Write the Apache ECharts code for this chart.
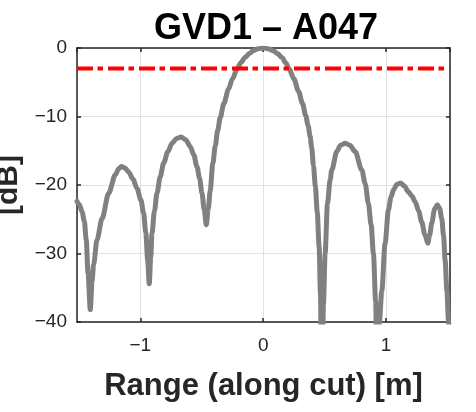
<!DOCTYPE html>
<html><head><meta charset="utf-8">
<script src="https://cdn.jsdelivr.net/npm/echarts@6/dist/echarts.min.js"></script>
<style>html,body{margin:0;padding:0;background:#fff}#c{width:476px;height:412px}</style>
</head><body><div id="c"></div><script>
// Range along cut [m]
const rangeM = [
  -1.515,-1.495,-1.474,-1.455,-1.44,-1.425,-1.407,-1.392,-1.38,-1.352,
  -1.311,-1.257,-1.203,-1.175,-1.154,-1.125,-1.095,-1.06,-1.027,-0.995,
  -0.973,-0.955,-0.94,-0.927,-0.915,-0.905,-0.885,-0.864,-0.838,-0.81,
  -0.775,-0.742,-0.705,-0.669,-0.63,-0.593,-0.565,-0.539,-0.518,-0.498,
  -0.48,-0.463,-0.447,-0.431,-0.41,-0.39,-0.37,-0.35,-0.32,-0.282,
  -0.25,-0.214,-0.18,-0.146,-0.11,-0.079,-0.04,0.0,0.04,0.084,
  0.12,0.152,0.185,0.21,0.25,0.287,0.32,0.345,0.365,0.382,
  0.395,0.409,0.425,0.44,0.455,0.466,0.477,0.49,0.504,0.523,
  0.545,0.558,0.599,0.63,0.667,0.705,0.748,0.802,0.83,0.856,
  0.878,0.897,0.915,0.93,0.945,0.965,0.992,1.019,1.04,1.06,
  1.09,1.119,1.15,1.181,1.21,1.236,1.265,1.29,1.315,1.339,
  1.355,1.371,1.395,1.417,1.435,1.453,1.468,1.48,1.495,1.507,1.52
];
// Normalised response [dB]
const gainDb = [
  -22.4,-22.9,-23.9,-25.3,-28.0,-32.9,-38.2,-34.0,-31.6,-28.0,
  -24.9,-21.2,-18.5,-17.6,-17.3,-17.5,-18.1,-19.1,-20.5,-22.2,
  -24.1,-27.0,-31.0,-34.4,-30.5,-27.1,-23.8,-21.2,-18.8,-16.8,
  -15.1,-13.9,-13.2,-13.0,-13.4,-14.4,-15.6,-17.3,-19.0,-21.2,
  -23.6,-25.8,-23.5,-20.8,-16.9,-14.3,-12.0,-10.2,-8.1,-6.0,
  -4.5,-3.1,-2.1,-1.35,-0.75,-0.38,-0.1,0.0,-0.1,-0.42,
  -0.85,-1.4,-2.2,-3.0,-4.5,-6.3,-8.1,-9.8,-11.3,-12.9,
  -14.6,-17.2,-20.3,-24.0,-29.0,-36.0,-55,-37.5,-30.0,-22.7,
  -19.2,-17.8,-15.1,-14.2,-13.9,-14.2,-15.1,-17.8,-19.8,-22.7,
  -25.8,-30.0,-37.0,-55,-40.0,-35.5,-28.5,-23.6,-21.8,-20.7,
  -19.9,-19.7,-20.2,-21.0,-21.6,-22.4,-23.8,-25.4,-27.2,-28.5,
  -27.3,-25.6,-23.5,-22.9,-23.4,-24.9,-27.5,-30.9,-35.5,-39.7,-44.5
];
const thresholdDb = -3;
const xLimits = [-1.515, 1.52];
const yLimits = [-40, 0];
const yStep = 10;

const curve = rangeM.map((x, i) => [x, gainDb[i]]);
const threshold = [[xLimits[0], thresholdDb], [xLimits[1], thresholdDb]];

const FONT = '"Liberation Sans", Arial, Helvetica, sans-serif';
const AX = '#262626';
const fmt = v => (v < 0 ? '\u2212' + Math.abs(v) : String(v));

const chart = echarts.init(document.getElementById('c'), null, {renderer: 'canvas'});
chart.setOption({
  animation: false,
  backgroundColor: '#ffffff',
  title: {
    text: 'GVD1 \u2013 A047',
    left: 149, top: 6,
    textStyle: {fontFamily: FONT, fontWeight: 'bold', fontSize: 36, color: '#000'}
  },
  grid: {left: 77, right: 26, top: 48, bottom: 90, containLabel: false, outerBoundsMode: 'none'},
  xAxis: [{
    type: 'value', min: xLimits[0], max: xLimits[1], splitNumber: 3,
    position: 'bottom',
    axisLine: {show: true, onZero: false, lineStyle: {color: AX, width: 1.5}},
    axisTick: {show: true, inside: true, length: 4, lineStyle: {color: AX, width: 1.5}},
    axisLabel: {show: true, showMinLabel: false, showMaxLabel: false, margin: 14,
      fontFamily: FONT, fontSize: 19, color: AX, formatter: fmt},
    splitLine: {show: true, lineStyle: {color: '#e2e2e2', width: 1}},
    name: 'Range (along cut) [m]', nameLocation: 'middle', nameGap: 49,
    nameTextStyle: {fontFamily: FONT, fontWeight: 'bold', fontSize: 31, color: AX}
  }, {
    type: 'value', min: xLimits[0], max: xLimits[1], splitNumber: 3,
    position: 'top',
    axisLine: {show: true, onZero: false, lineStyle: {color: AX, width: 1.5}},
    axisTick: {show: true, inside: true, length: 4, lineStyle: {color: AX, width: 1.5}},
    axisLabel: {show: false}, splitLine: {show: false}
  }],
  yAxis: [{
    type: 'value', min: yLimits[0], max: yLimits[1], interval: yStep,
    position: 'left',
    axisLine: {show: true, onZero: false, lineStyle: {color: AX, width: 1.5}},
    axisTick: {show: true, inside: true, length: 4, lineStyle: {color: AX, width: 1.5}},
    axisLabel: {show: true, margin: 10, fontFamily: FONT, fontSize: 19, color: AX, formatter: fmt},
    splitLine: {show: true, lineStyle: {color: '#e2e2e2', width: 1}},
    name: '[dB]', nameLocation: 'middle', nameGap: 50,
    nameTextStyle: {fontFamily: FONT, fontWeight: 'bold', fontSize: 30, color: AX}
  }, {
    type: 'value', min: yLimits[0], max: yLimits[1], interval: yStep,
    position: 'right',
    axisLine: {show: true, onZero: false, lineStyle: {color: AX, width: 1.5}},
    axisTick: {show: true, inside: true, length: 4, lineStyle: {color: AX, width: 1.5}},
    axisLabel: {show: false}, splitLine: {show: false}
  }],
  series: [{
    type: 'line', xAxisIndex: 0, yAxisIndex: 0, data: curve,
    symbol: 'none', clip: true, smooth: 0.3, smoothMonotone: 'x',
    lineStyle: {color: '#808080', width: 5, join: 'round', cap: 'round'}
  }, {
    type: 'line', xAxisIndex: 0, yAxisIndex: 0, data: threshold,
    symbol: 'none', clip: true,
    lineStyle: {color: '#ff0000', width: 4, type: [16, 4.5, 5.5, 5], cap: 'butt'}
  }]
});
</script></body></html>
